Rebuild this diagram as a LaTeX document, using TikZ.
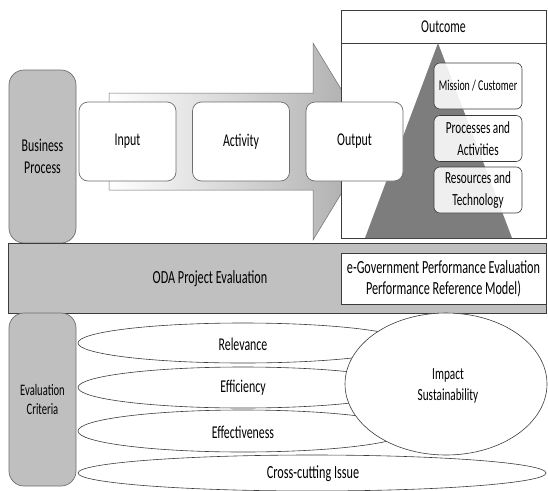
\documentclass[tikz,border=0pt]{standalone}
\usepackage{fontspec}
\setmainfont{Carlito}[FakeStretch=0.66]
\usetikzlibrary{shapes.geometric}
\definecolor{sidegray}{HTML}{BFBFBF}
\definecolor{bandgray}{HTML}{C0C0C0}
\definecolor{pyramid}{HTML}{7D7D7D}
\definecolor{edge}{HTML}{3C3C3C}
\definecolor{softedge}{HTML}{6E6E6E}
\begin{document}
\begin{tikzpicture}[x=1pt,y=-1pt,
  txt/.style={font=\fontsize{18}{21.5}\selectfont, align=center, inner sep=0pt, text=black},
  sidebox/.style={draw=softedge, fill=sidegray, rounded corners=15pt, line width=0.7pt},
  stagebox/.style={txt, draw=softedge, fill=white, rounded corners=9pt, line width=0.7pt,
    minimum width=97pt, minimum height=79pt},
  layerbox/.style={txt, draw=edge, fill=white, fill opacity=0.88, text opacity=1,
    rounded corners=6pt, line width=0.6pt, minimum width=88pt, minimum height=46pt},
  crit/.style={txt, ellipse, draw=edge, fill=white, line width=0.6pt}
]
\useasboundingbox (0,0) rectangle (548,490);

% business process column
\node[sidebox, minimum width=67pt, minimum height=173pt] (bp) at (42.5,156.5) {};
\node[txt, font=\fontsize{18}{22}\selectfont] (bptext) at (bp.center) {Business\\Process};

% value chain arrow
\path[draw=softedge, line width=0.5pt, left color=white, right color=black!34]
  (109,93) -- (313,93) -- (313,43) -- (373,141.5) -- (313,240) -- (313,190) -- (109,190) -- cycle;

% outcome frame
\node[draw=edge, fill=white, line width=0.7pt, minimum width=205pt, minimum height=228pt,
  inner sep=0pt] (outcome) at (443.5,124) {};
\coordinate (hdl) at (341,43);
\coordinate (hdr) at (546,43);
\draw[edge, line width=0.7pt] (hdl) -- (hdr);
\node[txt] (outtext) at (443.5,27) {Outcome};

% performance pyramid
\fill[pyramid] (438,43) -- (512,238) -- (365,238) -- cycle;

\node[layerbox, font=\fontsize{15}{18}\selectfont] (mission) at (478,86) {Mission / Customer};
\node[layerbox, font=\fontsize{17}{21.5}\selectfont] (process) at (478,138.5) {Processes and\\Activities};
\node[layerbox, font=\fontsize{17}{21.5}\selectfont] (resource) at (478,190) {Resources and\\Technology};

% stages of the chain
\node[stagebox] (input) at (127.5,141.5) {Input};
\node[stagebox] (activity) at (241,141.5) {Activity};
\node[stagebox] (output) at (354.5,141.5) {Output};

% evaluation band
\node[draw=edge, fill=bandgray, line width=0.7pt, minimum width=538pt, minimum height=70pt,
  inner sep=0pt] (band) at (277.5,278) {};
\node[txt, font=\fontsize{18.5}{21}\selectfont] (oda) at (210,279) {ODA Project Evaluation};
\node[txt, draw=edge, fill=white, line width=0.7pt, minimum width=205pt, minimum height=51pt,
  font=\fontsize{18.5}{21}\selectfont] (egov) at (443.5,278.5)
  {e-Government Performance Evaluation\\Performance Reference Model)};

% evaluation criteria column
\node[sidebox, minimum width=67pt, minimum height=173pt] (ec) at (42.5,399.5) {};
\node[txt, font=\fontsize{16}{19.5}\selectfont] (ectext) at (ec.center) {Evaluation\\Criteria};

% criteria ellipses
\node[crit, minimum width=330pt, minimum height=40pt] (relevance) at (243,343) {};
\node[crit, minimum width=330pt, minimum height=41pt] (efficiency) at (243,387.5) {};
\node[crit, minimum width=330pt, minimum height=42pt] (effective) at (243,431) {};
\node[crit, minimum width=468pt, minimum height=36pt] (cross) at (312,473) {};
\node[crit, minimum width=202pt, minimum height=142pt] (impact) at (446,384) {};

\node[txt] (reltext) at (243,344) {Relevance};
\node[txt] (efftext) at (243,388) {Efficiency};
\node[txt] (efvtext) at (243,432) {Effectiveness};
\node[txt, font=\fontsize{18.5}{21}\selectfont] (crosstext) at (313,474) {Cross-cutting Issue};
\node[txt, font=\fontsize{17}{20.5}\selectfont] (imptext) at (448,386) {Impact\\Sustainability};
\end{tikzpicture}
\end{document}
